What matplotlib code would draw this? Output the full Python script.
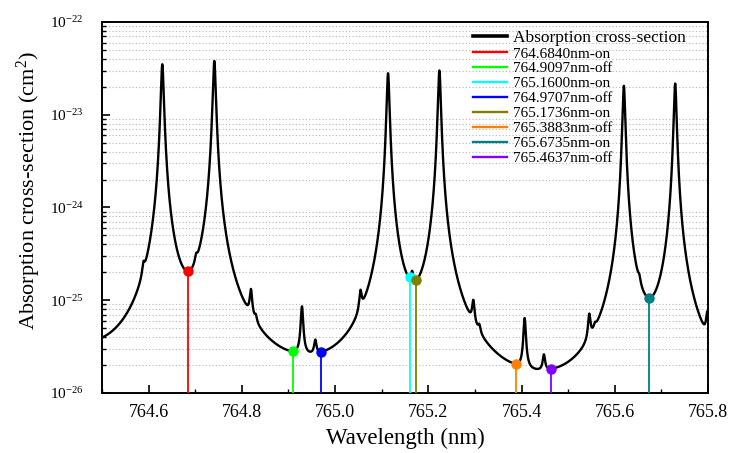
import numpy as np
import matplotlib.pyplot as plt
from matplotlib.ticker import MultipleLocator, FormatStrFormatter, LogLocator, NullFormatter

plt.rcParams['font.family'] = ['Liberation Serif', 'DejaVu Serif']
plt.rcParams['mathtext.fontset'] = 'custom'
plt.rcParams['mathtext.rm'] = 'Liberation Serif'
plt.rcParams['mathtext.it'] = 'Liberation Serif:italic'

# O2 A-band line list: centre (nm), peak cross-section (cm^2), Lorentz HWHM (nm)
line_center = np.array([764.1800, 764.2900,
                        764.5890, 764.6294, 764.7020, 764.7410,
                        764.8196, 764.8300, 764.9290, 764.9576,
                        765.0545, 765.1137, 765.1654, 765.2238,
                        765.2966, 765.3094, 765.4067, 765.4480,
                        765.5453, 765.5575, 765.6195, 765.6526,
                        765.7296, 765.7985])
line_peak = np.array([4.5e-23, 4.5e-23,
                      6.0e-26, 3.50e-23, 5.0e-26, 3.80e-23,
                      6.3e-26, 1.0e-26, 6.0e-26, 1.1e-26,
                      5.0e-26, 2.80e-23, 5.0e-26, 3.00e-23,
                      4.3e-26, 9.0e-27, 4.6e-26, 8.5e-27,
                      3.3e-26, 6.0e-27, 2.05e-23, 2.5e-26,
                      2.17e-23, 3.4e-26])
line_hwhm = np.array([0.0030, 0.0030,
                      0.0028, 0.0029, 0.0028, 0.0029,
                      0.0028, 0.0028, 0.0028, 0.0028,
                      0.0028, 0.0028, 0.0028, 0.0028,
                      0.0028, 0.0028, 0.0028, 0.0028,
                      0.0028, 0.0028, 0.0027, 0.0028,
                      0.0027, 0.0028])
continuum = 2e-27

# laser channels
laser_wl = [764.6840, 764.9097, 765.1600, 764.9707, 765.1736, 765.3883, 765.6735, 765.4637]
laser_mode = ['on', 'off', 'on', 'off', 'on', 'off', 'on', 'off']
laser_color = ['#ff0000', '#00ff00', '#00ffff', '#0000ff', '#808000', '#ff8000', '#008080', '#8000ff']

y_ticks = [1e-26, 1e-25, 1e-24, 1e-23, 1e-22]


def cross_section(wl):
    wl = np.atleast_1d(wl)[:, None]
    prof = line_hwhm**2 / ((wl - line_center)**2 + line_hwhm**2)
    return continuum + (line_peak * prof).sum(axis=1)


wl = np.linspace(764.5, 765.8, 26001)
sigma = cross_section(wl)

fig = plt.figure(figsize=(7.32, 4.53), dpi=100)
ax = fig.add_axes([0.1393, 0.1325, 0.8279, 0.8189])

ax.plot(wl, sigma, color='k', lw=1.7, label='Absorption cross-section', zorder=3)
for w, m, c in zip(laser_wl, laser_mode, laser_color):
    s = cross_section(w)[0]
    ax.plot([w, w], [1e-26, s], color=c, lw=1.3, label=f'{w:.4f}nm-{m}', zorder=4)
    ax.plot(w, s, 'o', color=c, ms=6.5, zorder=5)

ax.set_yscale('log')
ax.set_xlim(764.5, 765.8)
ax.set_ylim(1e-26, 1e-22)

ax.xaxis.set_major_locator(MultipleLocator(0.2))
ax.xaxis.set_minor_locator(MultipleLocator(0.1))
ax.xaxis.set_major_formatter(FormatStrFormatter('%.1f'))
ax.set_yticks(y_ticks)
ax.yaxis.set_minor_locator(LogLocator(base=10, subs=np.arange(2, 10)))
ax.yaxis.set_minor_formatter(NullFormatter())

ax.grid(which='minor', axis='y', linestyle=(0, (1, 2)), color='#b5b5b5', lw=0.8)
ax.set_axisbelow(True)

ax.tick_params(which='both', direction='in', top=False, right=False)
ax.tick_params(which='major', length=6, width=1.2)
ax.tick_params(which='minor', length=3, width=1.0)
ax.tick_params(axis='x', which='major', pad=8, labelsize=13)
ax.tick_params(axis='y', which='major', pad=13, labelsize=11)
for sp in ax.spines.values():
    sp.set_linewidth(1.4)

ax.set_xlabel('Wavelength (nm)', fontsize=16.5, labelpad=5)
ax.set_ylabel('Absorption cross-section (cm$^2$)', fontsize=16)
ax.yaxis.set_label_coords(-0.097, 0.545)

leg = ax.legend(loc='upper left', bbox_to_anchor=(0.600, 1.0), frameon=False,
                fontsize=11, handlelength=2.2, handletextpad=0.4,
                labelspacing=0.08, borderaxespad=0.3, borderpad=0.2)
leg.get_texts()[0].set_fontsize(12.5)
for i, h in enumerate(leg.legend_handles):
    h.set_linewidth(2.6 if i == 0 else 1.7)

fig.savefig('out.png', dpi=100)
